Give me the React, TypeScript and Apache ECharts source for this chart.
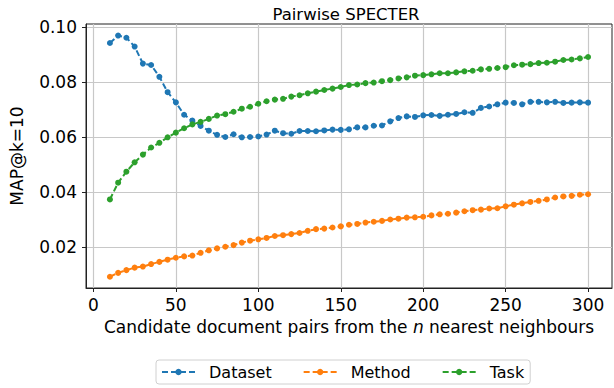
import React, { useEffect, useRef } from "react";
import * as echarts from "echarts";

const nValues = [10, 15, 20, 25, 30, 35, 40, 45, 50, 55, 60, 65, 70, 75, 80, 85, 90, 95, 100, 105, 110, 115, 120, 125, 130, 135, 140, 145, 150, 155, 160, 165, 170, 175, 180, 185, 190, 195, 200, 205, 210, 215, 220, 225, 230, 235, 240, 245, 250, 255, 260, 265, 270, 275, 280, 285, 290, 295, 300];

const datasetValues = [0.0941, 0.0968, 0.0960, 0.0928, 0.0866, 0.0861, 0.0818, 0.0762, 0.0725, 0.0680, 0.0659, 0.0639, 0.0622, 0.0607, 0.0599, 0.0609, 0.0598, 0.0599, 0.0601, 0.0608, 0.0622, 0.0613, 0.0611, 0.0621, 0.0621, 0.0620, 0.0623, 0.0626, 0.0625, 0.0627, 0.0634, 0.0634, 0.0640, 0.0641, 0.0656, 0.0668, 0.0674, 0.0672, 0.0678, 0.0679, 0.0676, 0.0680, 0.0683, 0.0689, 0.0687, 0.0705, 0.0710, 0.0718, 0.0724, 0.0723, 0.0718, 0.0727, 0.0727, 0.0725, 0.0727, 0.0723, 0.0724, 0.0725, 0.0724];

const methodValues = [0.0091, 0.0105, 0.0115, 0.0124, 0.0128, 0.0137, 0.0145, 0.0153, 0.0160, 0.0165, 0.0168, 0.0178, 0.0187, 0.0194, 0.0200, 0.0206, 0.0215, 0.0222, 0.0227, 0.0232, 0.0239, 0.0242, 0.0246, 0.0250, 0.0258, 0.0264, 0.0266, 0.0270, 0.0274, 0.0280, 0.0283, 0.0288, 0.0291, 0.0294, 0.0299, 0.0302, 0.0306, 0.0307, 0.0309, 0.0314, 0.0318, 0.0320, 0.0324, 0.0329, 0.0333, 0.0335, 0.0339, 0.0340, 0.0347, 0.0353, 0.0358, 0.0363, 0.0367, 0.0372, 0.0379, 0.0383, 0.0385, 0.0389, 0.0391];

const taskValues = [0.0372, 0.0433, 0.0473, 0.0507, 0.0535, 0.0561, 0.0578, 0.0598, 0.0615, 0.0631, 0.0645, 0.0654, 0.0665, 0.0677, 0.0682, 0.0691, 0.0702, 0.0709, 0.0720, 0.0729, 0.0735, 0.0738, 0.0746, 0.0751, 0.0758, 0.0764, 0.0770, 0.0775, 0.0781, 0.0788, 0.0790, 0.0795, 0.0797, 0.0802, 0.0806, 0.0812, 0.0816, 0.0822, 0.0824, 0.0827, 0.0831, 0.0831, 0.0834, 0.0838, 0.0840, 0.0845, 0.0847, 0.0850, 0.0853, 0.0860, 0.0862, 0.0864, 0.0868, 0.0869, 0.0873, 0.0879, 0.0881, 0.0885, 0.0890];

const seriesNames = ["Dataset", "Method", "Task"];
const seriesColors = ["#1f77b4", "#ff7f0e", "#2ca02c"];
const xTicks = [0, 50, 100, 150, 200, 250, 300];
const yTicks = [0.02, 0.04, 0.06, 0.08, 0.1];

const FONT = "DejaVu Sans";
const FS = 17;

export default function App() {
  const ref = useRef<HTMLDivElement>(null);
  useEffect(() => {
    document.body.style.margin = "0";
    const chart = echarts.init(ref.current!, null, { renderer: "svg" });
    const allValues = [datasetValues, methodValues, taskValues];
    chart.setOption({
      animation: false,
      backgroundColor: "#ffffff",
      textStyle: { fontFamily: FONT },
      title: {
        text: "Pairwise SPECTER",
        left: 341,
        textAlign: "center",
        top: 1,
        textStyle: { fontFamily: FONT, fontSize: 16.5, fontWeight: "normal", color: "#000" },
      },
      grid: {
        left: 71,
        right: 2,
        top: 24,
        bottom: 100,
        show: true,
        borderColor: "#222",
        borderWidth: 1,
        containLabel: false,
      },
      legend: {
        left: 156,
        top: 360,
        padding: [4, 6, 4, 5],
        itemGap: 31,
        itemWidth: 33,
        itemHeight: 8,
        borderColor: "#d0d0d0",
        borderWidth: 1,
        borderRadius: 3,
        textStyle: { fontFamily: FONT, fontSize: 16, color: "#000", padding: [0, 0, 0, 9] },
        data: seriesNames,
      },
      xAxis: {
        type: "value",
        min: -4.5,
        max: 314.5,
        name: "Candidate document pairs from the {i|n} nearest neighbours",
        nameLocation: "middle",
        nameGap: 30,
        nameTextStyle: {
          fontFamily: FONT,
          fontSize: FS,
          color: "#000",
          rich: { i: { fontStyle: "italic", fontFamily: FONT, fontSize: FS, color: "#000" } },
        },
        axisLine: { show: true, onZero: false, lineStyle: { color: "#222", width: 1 } },
        axisTick: { show: true, length: 4, customValues: xTicks, lineStyle: { color: "#222" } },
        axisLabel: { customValues: xTicks, fontFamily: FONT, fontSize: FS, color: "#000", margin: 8 },
        splitLine: { show: true, lineStyle: { color: "#c8c8c8", width: 1.2 } },
      },
      yAxis: {
        type: "value",
        min: 0.005,
        max: 0.101,
        name: "MAP@k=10",
        nameLocation: "middle",
        nameGap: 61,
        nameTextStyle: { fontFamily: FONT, fontSize: FS, color: "#000" },
        axisLine: { show: true, onZero: false, lineStyle: { color: "#222", width: 1 } },
        axisTick: { show: true, length: 4, customValues: yTicks, lineStyle: { color: "#222" } },
        axisLabel: {
          customValues: yTicks,
          fontFamily: FONT,
          fontSize: FS,
          color: "#000",
          margin: 9,
          formatter: (v: number) => v.toFixed(2),
        },
        splitLine: { show: true, lineStyle: { color: "#c8c8c8", width: 1.2 } },
      },
      series: seriesNames.map((name, i) => ({
        name,
        type: "line",
        data: nValues.map((n, j) => [n, allValues[i][j]]),
        symbol: "circle",
        symbolSize: 6,
        showSymbol: true,
        color: seriesColors[i],
        lineStyle: { color: seriesColors[i], width: 2, type: [6, 3] },
        itemStyle: { color: seriesColors[i] },
        emphasis: { disabled: true },
      })),
    });
    return () => chart.dispose();
  }, []);
  return <div ref={ref} style={{ width: 614, height: 388 }} />;
}
